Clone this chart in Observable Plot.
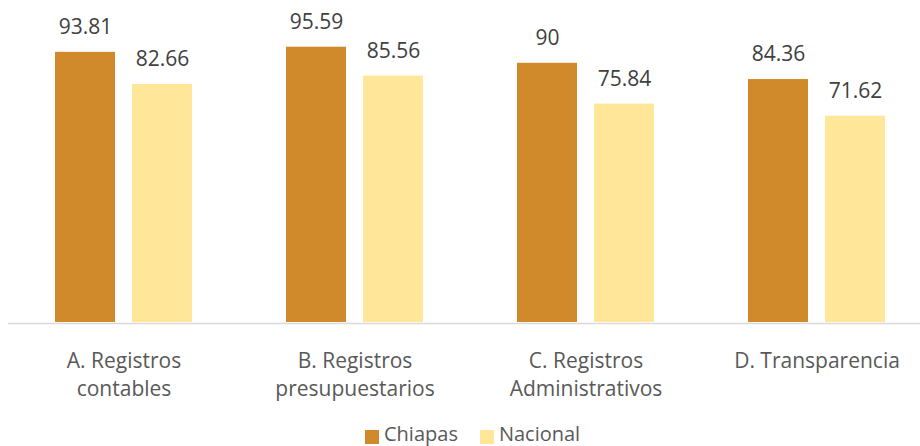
<!DOCTYPE html>
<html>
<head>
<meta charset="utf-8">
<script src="https://cdn.jsdelivr.net/npm/d3@7"></script>
<script src="https://cdn.jsdelivr.net/npm/@observablehq/plot@0.6"></script>
<style>
  html, body { margin: 0; padding: 0; background: #fff; overflow: hidden; }
  body { width: 920px; height: 446px; position: relative; font-family: "Open Sans", sans-serif; }
  #legend { position: absolute; left: 365px; top: 424px; height: 20px; display: flex; align-items: flex-start; font-size: 20px; line-height: 20px; color: #595959; }
  .sw { width: 14px; height: 14px; margin-top: 6px; margin-right: 5px; }
  .item { display: flex; align-items: flex-start; margin-right: 22px; }
</style>
</head>
<body>
<div id="chart"></div>
<div id="legend"></div>
<script>
const categories = ["A. Registros contables", "B. Registros presupuestarios", "C. Registros Administrativos", "D. Transparencia"];
const categoryLabels = ["A. Registros\ncontables", "B. Registros\npresupuestarios", "C. Registros\nAdministrativos", "D. Transparencia"];
const series = ["Chiapas", "Nacional"];
const chiapas = [93.81, 95.59, 90, 84.36];
const nacional = [82.66, 85.56, 75.84, 71.62];
const colors = ["#D08A2B", "#FFE699"];

const data = [];
categories.forEach((c, i) => {
  data.push({category: c, series: "Chiapas", value: chiapas[i]});
  data.push({category: c, series: "Nacional", value: nacional[i]});
});
const labelOf = new Map(categories.map((c, i) => [c, categoryLabels[i]]));

const chart = Plot.plot({
  width: 920,
  height: 418,
  marginTop: 0, marginBottom: 0, marginLeft: 0, marginRight: 0,
  style: {fontFamily: "Open Sans, sans-serif", background: "#fff", overflow: "visible"},
  fx: {domain: categories, range: [8, 932], paddingInner: 0, paddingOuter: 0, axis: null},
  x: {domain: series, paddingInner: 0.218, paddingOuter: 0.59, axis: null},
  y: {domain: [0, 100], range: [322, 34], axis: null},
  color: {domain: series, range: colors},
  marks: [
    Plot.ruleY([0], {stroke: "#d9d9d9", strokeWidth: 1.5, dy: 1}),
    Plot.barY(data, {fx: "category", x: "series", y: "value", fill: "series"}),
    Plot.text(data, {fx: "category", x: "series", y: "value", text: d => String(d.value),
      lineAnchor: "middle", dy: -25.1, fontSize: 21, fill: "#404040"}),
    Plot.text(categories, {fx: d => d, y: () => 0, text: d => labelOf.get(d),
      lineAnchor: "top", dy: 25.8, fontSize: 21, lineHeight: 1.333, fill: "#595959"})
  ]
});
document.getElementById("chart").appendChild(chart);

const legend = document.getElementById("legend");
series.forEach((s, i) => {
  const item = document.createElement("div");
  item.className = "item";
  const sw = document.createElement("div");
  sw.className = "sw";
  sw.style.background = colors[i];
  const t = document.createElement("span");
  t.textContent = s;
  item.appendChild(sw);
  item.appendChild(t);
  legend.appendChild(item);
});
</script>
</body>
</html>
